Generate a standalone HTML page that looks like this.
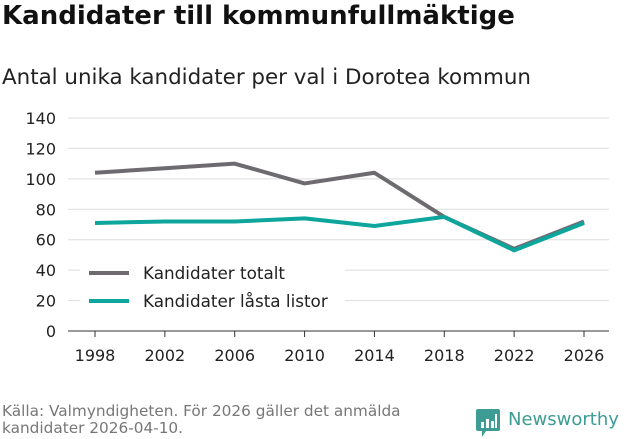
<!DOCTYPE html>
<html><head><meta charset="utf-8"><style>
body{margin:0;width:631px;height:439px;background:#fff;font-family:"DejaVu Sans","Liberation Sans",sans-serif;overflow:hidden;position:relative}
.t{position:absolute;white-space:nowrap}
</style></head><body>
<div class="t" style="left:2px;top:1px;font-size:26px;font-weight:bold;color:#111">Kandidater till kommunfullmäktige</div>
<div class="t" style="left:2px;top:65px;font-size:21.4px;color:#222">Antal unika kandidater per val i Dorotea kommun</div>
<svg id="c" width="631" height="439" style="position:absolute;left:0;top:0"></svg>
<div class="t" style="left:2px;top:403px;font-size:15.3px;color:#777;line-height:17px">Källa: Valmyndigheten. För 2026 gäller det anmälda<br>kandidater 2026-04-10.</div>
<div style="position:absolute;left:476px;top:409px">
<svg width="24" height="30" style="position:absolute;left:0;top:0"><rect x="0" y="0" width="24" height="22" rx="2" fill="#3d9c93"/><path d="M6 22 L10 22 L6 28Z" fill="#3d9c93"/><rect x="5" y="13" width="3" height="6" fill="#fff"/><rect x="10" y="10" width="3" height="9" fill="#fff"/><rect x="15" y="12" width="3" height="7" fill="#fff"/><rect x="19" y="5" width="2" height="14" fill="#fff"/></svg>
<div class="t" style="left:32px;top:0px;font-size:18px;color:#3d9c93">Newsworthy</div></div>
<script>
const years=[1998,2002,2006,2010,2014,2018,2022,2026];
const totalt=[104,107,110,97,104,75,54,72];
const lasta=[71,72,72,74,69,75,53,71];
const yTicks=[0,20,40,60,80,100,120,140];
const svg=document.getElementById('c');const NS='http://www.w3.org/2000/svg';
const x=v=>95+(v-1998)*(584-95)/28;const y=v=>331-v*(331-118)/140;
function el(t,a,txt){const e=document.createElementNS(NS,t);for(const k in a)e.setAttribute(k,a[k]);if(txt!=null)e.textContent=txt;svg.appendChild(e);return e;}
yTicks.forEach(v=>{const g=el('line',{x1:68,x2:609,y1:y(v),y2:y(v),stroke:v?'#ddd':'#333','stroke-width':1});


const t=el('text',{x:56,y:y(v)+6,'text-anchor':'end','font-size':16,fill:'#222','font-family':'DejaVu Sans,sans-serif'},v);

});
years.forEach(v=>{const k=el('line',{x1:x(v),x2:x(v),y1:331,y2:337,stroke:'#333'});


const t=el('text',{x:x(v),y:361,'text-anchor':'middle','font-size':16,fill:'#222','font-family':'DejaVu Sans,sans-serif'},v);

});
function line(d,c,n){const p=el('polyline',{points:d.map((v,i)=>x(years[i])+','+y(v)).join(' '),fill:'none',stroke:c,'stroke-width':4,'stroke-linejoin':'round'});

}
line(totalt,'#6d6b70','series-totalt');line(lasta,'#0ea59c','series-lasta-listor');
const bg=el('rect',{x:80,y:258,width:265,height:62,fill:'#fff'});


[['Kandidater totalt','#6d6b70',273],['Kandidater låsta listor','#0ea59c',301]].forEach(([l,c,yy])=>{
const s=el('line',{x1:89,x2:129,y1:yy,y2:yy,stroke:c,'stroke-width':4});


const t=el('text',{x:143,y:yy+6,'font-size':16.8,fill:'#222','font-family':'DejaVu Sans,sans-serif'},l);

});
</script>
</body></html>
